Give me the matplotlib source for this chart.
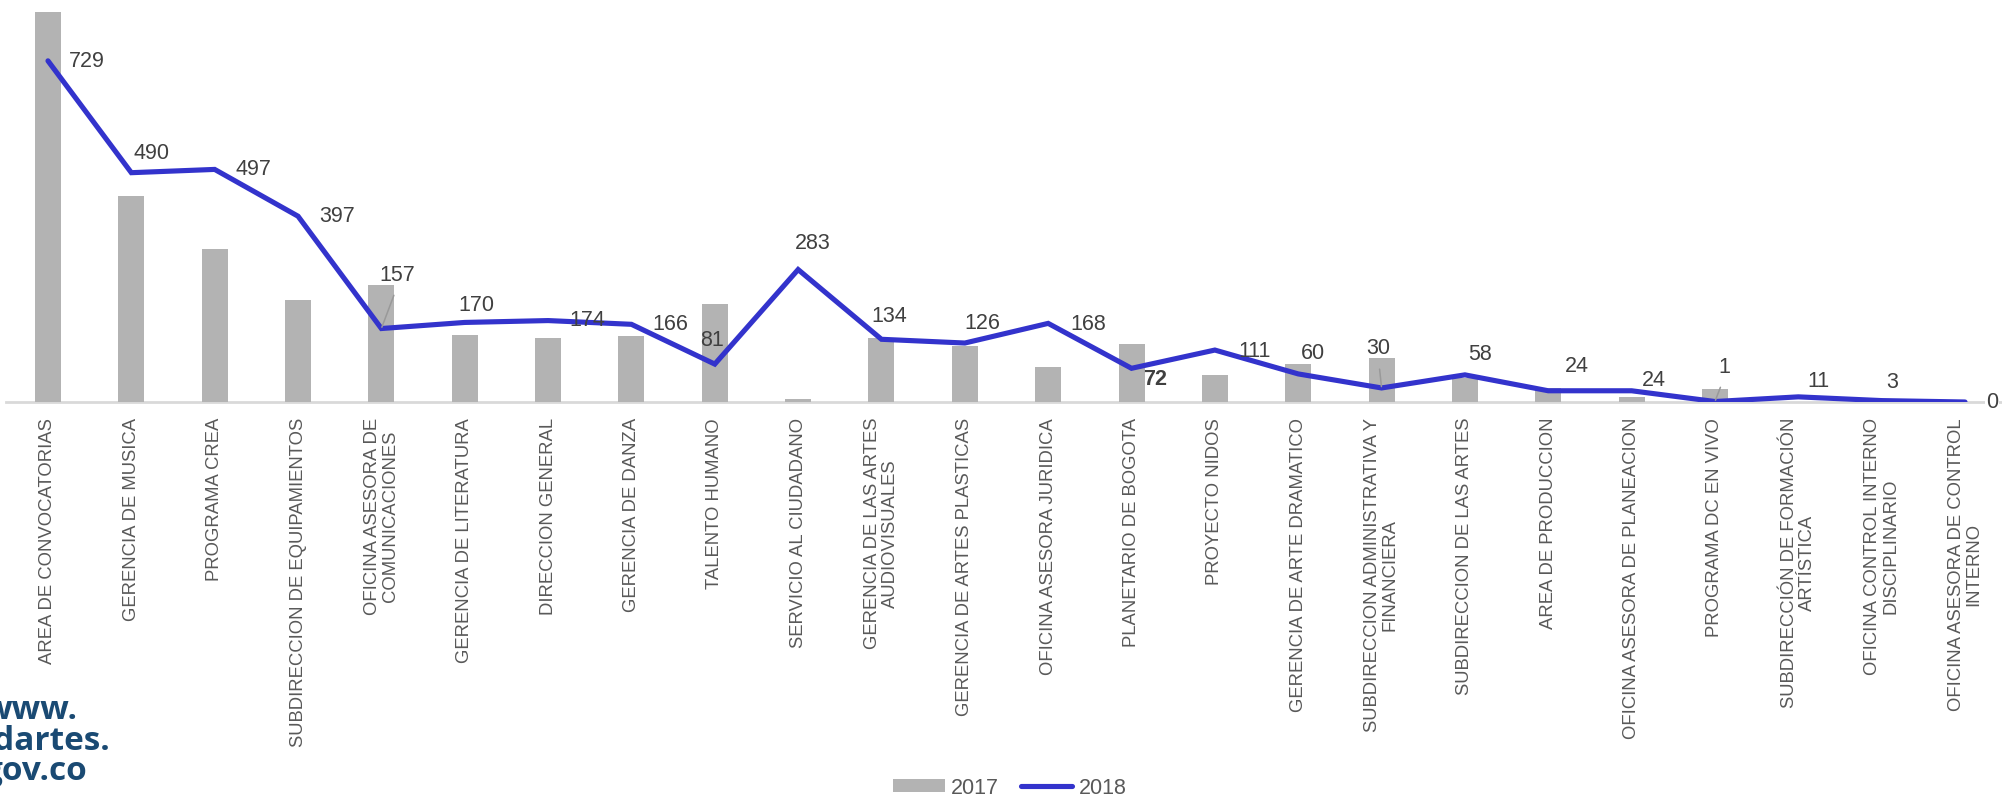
import matplotlib
matplotlib.use("Agg")
import matplotlib.pyplot as plt
from matplotlib import font_manager
from matplotlib.patches import Patch
from matplotlib.lines import Line2D

# ---------------- data ----------------
categories = [
    "AREA DE CONVOCATORIAS",
    "GERENCIA DE MUSICA",
    "PROGRAMA CREA",
    "SUBDIRECCION DE EQUIPAMIENTOS",
    "OFICINA ASESORA DE\nCOMUNICACIONES",
    "GERENCIA DE LITERATURA",
    "DIRECCION GENERAL",
    "GERENCIA DE DANZA",
    "TALENTO HUMANO",
    "SERVICIO AL CIUDADANO",
    "GERENCIA DE LAS ARTES\nAUDIOVISUALES",
    "GERENCIA DE ARTES PLASTICAS",
    "OFICINA ASESORA JURIDICA",
    "PLANETARIO DE BOGOTA",
    "PROYECTO NIDOS",
    "GERENCIA DE ARTE DRAMATICO",
    "SUBDIRECCION ADMINISTRATIVA Y\nFINANCIERA",
    "SUBDIRECCION DE LAS ARTES",
    "AREA DE PRODUCCION",
    "OFICINA ASESORA DE PLANEACION",
    "PROGRAMA DC EN VIVO",
    "SUBDIRECCIÓN DE FORMACIÓN\nARTÍSTICA",
    "OFICINA CONTROL INTERNO\nDISCIPLINARIO",
    "OFICINA ASESORA DE CONTROL\nINTERNO",
]
values_2017 = [833, 440, 327, 219, 250, 143, 137, 141, 209, 6, 137, 120,
               75, 124, 58, 81, 95, 52, 30, 11, 28, 0, 0, 0]
values_2018 = [729, 490, 497, 397, 157, 170, 174, 166, 81, 283, 134, 126,
               168, 72, 111, 60, 30, 58, 24, 24, 1, 11, 3, 0]
series_names = ["2017", "2018"]

# label offsets in pixels (dx right, dy down) -- layout only
label_offsets = [(39, 1), (20, -19), (39, 0), (39, 0), (16, -53), (12, -17),
                 (39, 0), (39, 0), (-3, -24), (15, -26), (8, -23), (17, -20),
                 (40, 1), (24, 11), (40, 1), (15, -20), (-3, -39), (15, -20),
                 (29, -24), (22, -10), (9, -34), (20, -15), (10, -18), (27, 1)]
leader_idx = [4, 16, 20]
bold_idx = [13]

# ---------------- fonts ----------------
names = {f.name for f in font_manager.fontManager.ttflist}
if "Liberation Sans Narrow" in names:
    num_font = "Liberation Sans Narrow"
    num_size = 16
else:
    num_font = "Liberation Sans"
    num_size = 15.5
tick_font = "Liberation Sans"

BAR_C = "#b3b3b3"
LINE_C = "#3333cc"
TXT_C = "#404040"
TICK_C = "#595959"

W, H = 2002, 799
fig = plt.figure(figsize=(W / 100, H / 100), dpi=100)
fig.patch.set_facecolor("white")

ax_left = 6.3 / W
ax_w = 2000.4 / W
ax_bottom = (H - 402) / H
ax_h = 402 / H
ax = fig.add_axes([ax_left, ax_bottom, ax_w, ax_h])

x = list(range(len(categories)))
ax.bar(x, values_2017, width=0.312, color=BAR_C, zorder=2)
ax.plot(x, values_2018, color=LINE_C, lw=3.7, zorder=3,
        solid_capstyle="round", solid_joinstyle="miter")

ax.set_xlim(-0.5, len(categories) - 0.5)
ax.set_ylim(0, 859)

for s in ["top", "right", "left"]:
    ax.spines[s].set_visible(False)
ax.spines["bottom"].set_color("#d9d9d9")
ax.spines["bottom"].set_linewidth(2)
ax.spines["bottom"].set_zorder(1)
ax.set_yticks([])
ax.set_xticks(x)
ax.set_xticklabels(categories, rotation=90, fontfamily=tick_font,
                   fontsize=13.3, color=TICK_C, ha="center", va="top",
                   multialignment="center", linespacing=1.05)
ax.tick_params(axis="x", length=0, pad=11.5)

# data labels
for i, v in enumerate(values_2018):
    dx, dy = label_offsets[i]
    kw = {}
    if i in leader_idx:
        kw["arrowprops"] = dict(arrowstyle="-", color="#999999", lw=1.1,
                                shrinkA=5, shrinkB=1, relpos=(0.5, 0.0))
    t = ax.annotate(str(v), xy=(i, v), xytext=(dx, -dy),
                    textcoords="offset pixels", ha="center", va="center",
                    fontfamily=num_font, fontsize=num_size, color=TXT_C,
                    fontweight="bold" if i in bold_idx else "normal",
                    zorder=5, annotation_clip=False, **kw)
    if i == len(values_2018) - 1:
        t.set_bbox(dict(facecolor="white", edgecolor="none", pad=1))

# legend
handles = [Patch(facecolor=BAR_C, edgecolor="none"),
           Line2D([0], [0], color=LINE_C, lw=3.7, solid_capstyle="round")]
fig.legend(handles, series_names, loc="center", ncol=2,
           bbox_to_anchor=(1010 / W, 1 - 788 / H), frameon=False,
           prop={"family": num_font, "size": num_size},
           labelcolor=TICK_C, handlelength=2.4, handleheight=0.55,
           handletextpad=0.3, columnspacing=1.0, borderpad=0)

# watermark logo text (cut off at left edge)
fig.text(-16 / W, 1 - 694 / H, "www.\nidartes.\ngov.co", ha="left", va="top",
         fontfamily="Open Sans", fontweight="bold", fontsize=24,
         color="#1a4a73", linespacing=0.9)

fig.savefig("out.png", dpi=100, facecolor="white")
